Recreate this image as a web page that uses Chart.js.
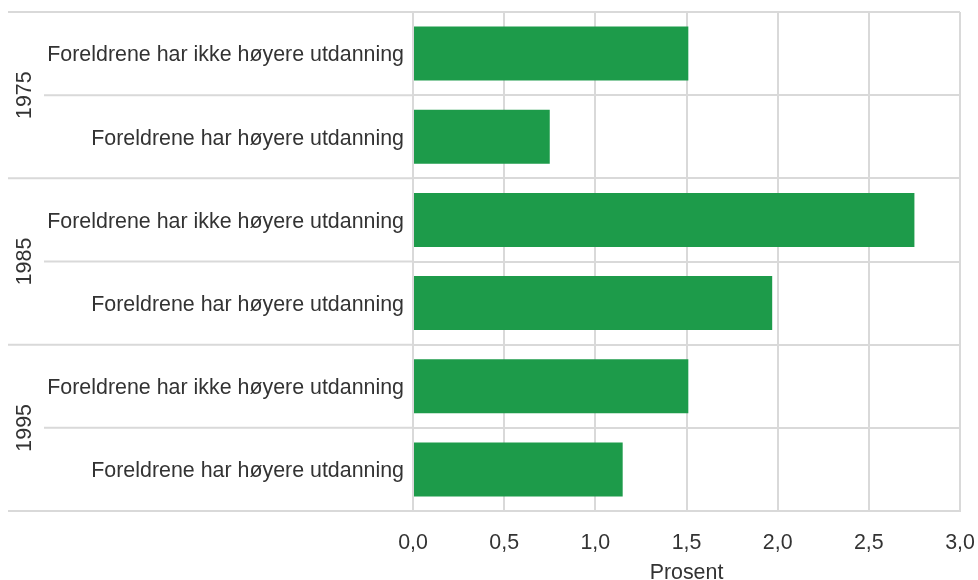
<!DOCTYPE html>
<html>
<head>
<meta charset="utf-8">
<script src="https://cdn.jsdelivr.net/npm/chart.js@4"></script>
<style>
html,body{margin:0;padding:0;background:#fff;}
canvas{display:block;}
</style>
</head>
<body>
<canvas id="c" width="978" height="580"></canvas>
<script>
const groups = ['1975', '1985', '1995'];
const subLabels = ['Foreldrene har ikke høyere utdanning', 'Foreldrene har høyere utdanning'];
const values = [1.51, 0.75, 2.75, 1.97, 1.51, 1.15];
const xTicks = [0, 0.5, 1, 1.5, 2, 2.5, 3];
const axisTitle = 'Prosent';

const labels = [];
groups.forEach(() => subLabels.forEach(s => labels.push(s)));

const FONT = '"Liberation Sans", Arial, sans-serif';
const FS = 21.4;
const TEXT = '#333333';
const GRID = '#d9d9d9';

const groupPlugin = {
  id: 'groupPlugin',
  afterDraw(chart) {
    const ctx = chart.ctx;
    const ys = chart.scales.y;
    const left = chart.chartArea.left;
    const n = labels.length;
    const step = ys.getPixelForValue(1) - ys.getPixelForValue(0);
    ctx.save();
    ctx.strokeStyle = GRID;
    ctx.lineWidth = 2;
    for (let i = 0; i <= n; i++) {
      const y = ys.getPixelForValue(i) - step / 2;
      const x0 = (i % subLabels.length === 0) ? 8 : 44;
      ctx.beginPath();
      ctx.moveTo(x0, y);
      ctx.lineTo(left, y);
      ctx.stroke();
    }
    ctx.fillStyle = TEXT;
    ctx.font = FS + 'px ' + FONT;
    ctx.textAlign = 'center';
    ctx.textBaseline = 'middle';
    groups.forEach((g, gi) => {
      const a = ys.getPixelForValue(gi * subLabels.length) - step / 2;
      const b = ys.getPixelForValue((gi + 1) * subLabels.length - 1) + step / 2;
      ctx.save();
      ctx.translate(25, (a + b) / 2);
      ctx.rotate(-Math.PI / 2);
      ctx.fillText(g, 0, 0);
      ctx.restore();
    });
    ctx.restore();
  }
};

new Chart(document.getElementById('c'), {
  type: 'bar',
  data: {
    labels: labels,
    datasets: [{
      data: values,
      backgroundColor: '#1d9b4a',
      borderWidth: 0,
      barPercentage: 0.65,
      categoryPercentage: 1.0
    }]
  },
  options: {
    indexAxis: 'y',
    responsive: false,
    animation: false,
    layout: { padding: { top: 12, right: 18, left: 0, bottom: 0 } },
    plugins: { legend: { display: false }, tooltip: { enabled: false } },
    scales: {
      x: {
        min: 0, max: 3,
        afterBuildTicks(scale) { scale.ticks = xTicks.map(v => ({ value: v })); },
        afterFit(scale) { scale.height = 69; scale.paddingLeft = 0; scale.paddingRight = 0; },
        grid: { color: GRID, lineWidth: 2, drawTicks: false },
        border: { color: GRID, width: 2 },
        ticks: {
          padding: 19,
          color: TEXT,
          font: { family: FONT, size: FS },
          callback: v => Number(v).toFixed(1).replace('.', ',')
        },
        title: {
          display: true, text: axisTitle, color: TEXT,
          font: { family: FONT, size: FS, lineHeight: 1 },
          padding: { top: 4, bottom: -4 }
        }
      },
      y: {
        afterFit(scale) { scale.width = 413; scale.paddingTop = 0; scale.paddingBottom = 0; },
        grid: { color: GRID, lineWidth: 2, drawTicks: false, offset: true },
        border: { display: false },
        ticks: {
          padding: 9,
          labelOffset: 2,
          color: TEXT,
          font: { family: FONT, size: FS }
        }
      }
    }
  },
  plugins: [groupPlugin]
});
</script>
</body>
</html>
